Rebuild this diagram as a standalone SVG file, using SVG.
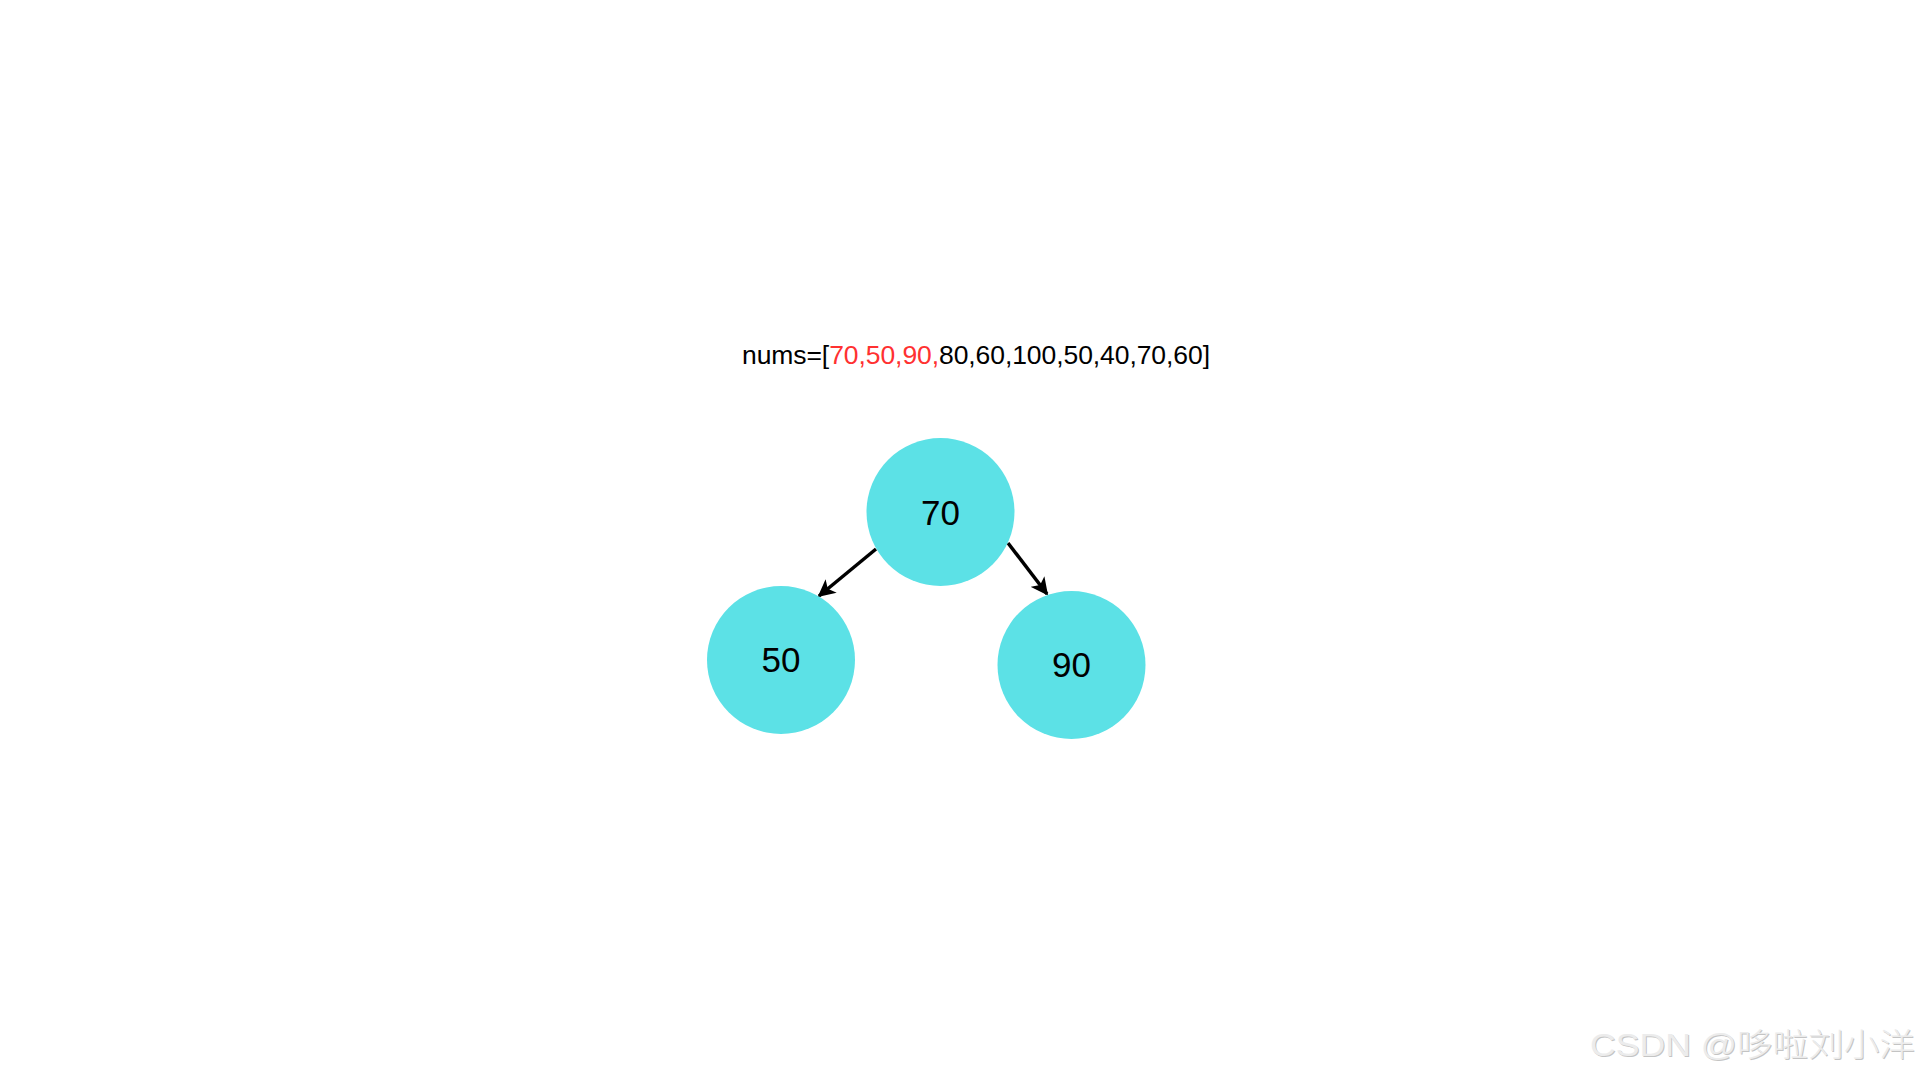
<svg xmlns="http://www.w3.org/2000/svg" width="1920" height="1080" viewBox="0 0 1920 1080">
<style>
.node{fill:#5ce1e6}
.lbl{font-family:"Liberation Sans",Arial,sans-serif;font-size:35px;fill:#000;text-anchor:middle}
.edge{stroke:#000;stroke-width:3.5;fill:none}
.title{font-family:"Liberation Sans",Arial,sans-serif;font-size:26.5px;fill:#000}
.red{fill:#ff3131}
.wm{font-family:"Liberation Sans","Noto Sans CJK SC",sans-serif;font-size:32px;font-weight:300}
</style>
<defs>
<marker id="arr" viewBox="0 0 10 10" refX="9" refY="5" markerWidth="5" markerHeight="5" orient="auto" markerUnits="strokeWidth">
<path d="M0,0 L10,5 L0,10 L2.5,5 Z" fill="#000"/>
</marker>
</defs>
<rect width="1920" height="1080" fill="#fff"/>
<text class="title" x="742" y="364" textLength="468" lengthAdjust="spacing">nums=[<tspan class="red">70,50,90,</tspan>80,60,100,50,40,70,60]</text>
<g id="connectors">
<line class="edge" x1="876" y1="549" x2="819" y2="596" marker-end="url(#arr)"/>
<line class="edge" x1="1008" y1="543" x2="1047" y2="594" marker-end="url(#arr)"/>
</g>
<g id="n70"><circle class="node" cx="940.5" cy="512" r="74"/><text class="lbl" x="940.5" y="525">70</text></g>
<g id="n50"><circle class="node" cx="781" cy="660" r="74"/><text class="lbl" x="781" y="672">50</text></g>
<g id="n90"><circle class="node" cx="1071.5" cy="665" r="74"/><text class="lbl" x="1071.5" y="677">90</text></g>
<text class="wm" x="1591" y="1057" fill="#c4c4c4" textLength="325" lengthAdjust="spacingAndGlyphs">CSDN @哆啦刘小洋</text>
<text class="wm" x="1590" y="1056" fill="#ececec" textLength="325" lengthAdjust="spacingAndGlyphs">CSDN @哆啦刘小洋</text>
</svg>
